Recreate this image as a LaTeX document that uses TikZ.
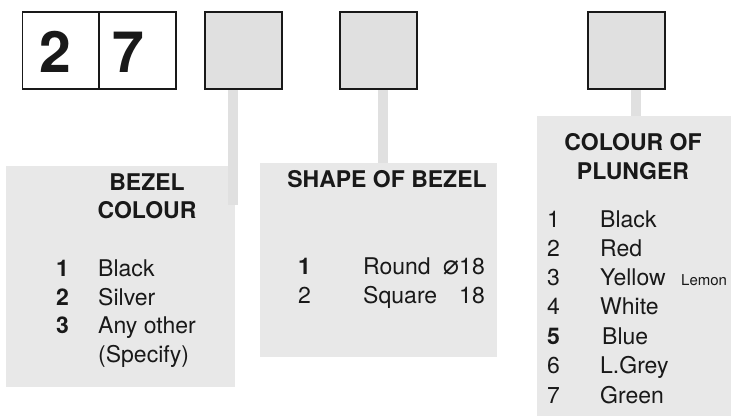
\documentclass[tikz,border=0pt]{standalone}
\usepackage{fontspec}
\setmainfont{TeX Gyre Heros}
\newfontfamily\djv{DejaVu Sans}
\begin{document}
\begin{tikzpicture}[x=1pt,y=-1pt,
  digitbox/.style={draw=black!90,line width=1.6pt,fill=white,minimum width=77pt,minimum height=77pt,inner sep=0pt},
  codebox/.style={draw=black!90,line width=1.6pt,fill=black!12,minimum width=77pt,minimum height=77pt,inner sep=0pt},
  panel/.style={fill=black!9,draw=none},
  stem/.style={draw=black!12,line width=10pt},
  head/.style={font=\fontsize{23}{28}\selectfont\bfseries,inner sep=0pt,anchor=base,text=black!90},
  item/.style={font=\fontsize{23}{28}\selectfont,inner sep=0pt,anchor=base west,text=black!90},
  bitem/.style={font=\fontsize{23}{28}\selectfont\bfseries,inner sep=0pt,anchor=base west,text=black!90}]
\useasboundingbox (0,0) rectangle (731,416);
% panels
\fill[panel] (6,166) rectangle (235,387);
\fill[panel] (260,163) rectangle (497,357);
\fill[panel] (537,116) rectangle (731,416);
% top boxes
\node[digitbox] (d1) at (61,50.5) {};
\node[digitbox] (d2) at (137.5,50.5) {};
\node[codebox] (b3) at (243.5,50.5) {};
\node[codebox] (b4) at (378.5,50.5) {};
\node[codebox] (b5) at (626.5,50.5) {};
% stems
\coordinate (s1) at (233,205);
\coordinate (s2) at (383,163);
\coordinate (s3) at (635.5,116);
\draw[stem] (b3.south -| s1) -- (s1);
\draw[stem] (b4.south -| s2) -- (s2);
\draw[stem] (b5.south -| s3) -- (s3);
% redraw boxes on top
\node[digitbox] at (d1) {};
\node[digitbox] at (d2) {};
\node[codebox] at (b3) {};
\node[codebox] at (b4) {};
\node[codebox] at (b5) {};
\node[font=\fontsize{57}{60}\selectfont\bfseries,inner sep=0pt,anchor=base,text=black!90] (n2) at (55.5,72) {2};
\node[font=\fontsize{57}{60}\selectfont\bfseries,inner sep=0pt,anchor=base,text=black!90] (n7) at (128,72) {7};
% panel 1
\node[head] (h1a) at (147,190) {BEZEL};
\node[head] (h1b) at (147,218) {COLOUR};
\node[bitem] (p1n1) at (56,276) {1};
\node[item] (p1t1) at (98,276) {Black};
\node[bitem] (p1n2) at (56,305) {2};
\node[item] (p1t2) at (98,305) {Silver};
\node[bitem] (p1n3) at (56,333) {3};
\node[item] (p1t3) at (98,333) {Any other};
\node[item] (p1t4) at (98,362) {(Specify)};
% panel 2
\node[head] (h2) at (387,187) {SHAPE OF BEZEL};
\node[bitem] (p2n1) at (298,274) {1};
\node[item] (p2t1) at (363,274) {Round};
\node[item,anchor=base east] (p2v1) at (485,274) {{\djv\fontsize{27}{28}\selectfont ⌀}18};
\node[item] (p2n2) at (298,303) {2};
\node[item] (p2t2) at (363,303) {Square};
\node[item,anchor=base east] (p2v2) at (485,303) {18};
% panel 3
\node[head] (h3a) at (633,150) {COLOUR OF};
\node[head] (h3b) at (633,179) {PLUNGER};
\node[item] (p3n1) at (547,227) {1};
\node[item] (p3t1) at (600,227) {Black};
\node[item] (p3n2) at (547,256) {2};
\node[item] (p3t2) at (600,256) {Red};
\node[item] (p3n3) at (547,285) {3};
\node[item] (p3t3) at (600,285) {Yellow};
\node[item,font=\fontsize{15}{18}\selectfont] (p3l) at (681,285) {Lemon};
\node[item] (p3n4) at (547,314) {4};
\node[item] (p3t4) at (600,314) {White};
\node[bitem] (p3n5) at (547,344) {5};
\node[item] (p3t5) at (602,344) {Blue};
\node[item] (p3n6) at (547,373) {6};
\node[item] (p3t6) at (600,373) {L.Grey};
\node[item] (p3n7) at (547,403) {7};
\node[item] (p3t7) at (600,403) {Green};
\end{tikzpicture}
\end{document}
